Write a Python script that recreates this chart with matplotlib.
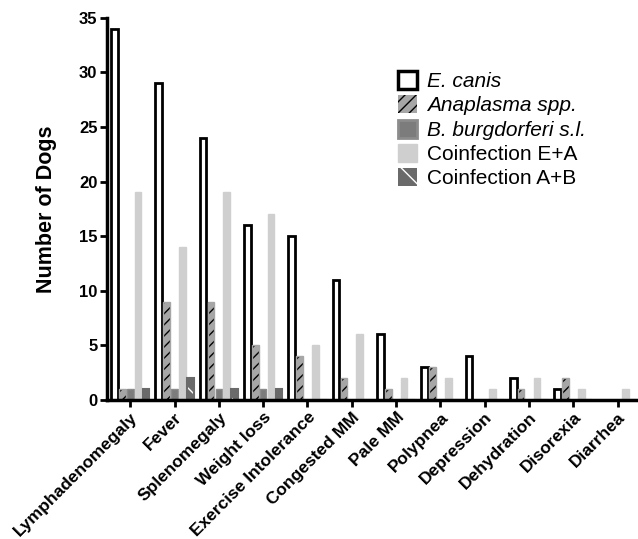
import matplotlib.pyplot as plt
import numpy as np
from matplotlib.patches import Patch

plt.rcParams['font.family'] = ['Liberation Sans', 'DejaVu Sans']

symptoms = ['Lymphadenomegaly', 'Fever', 'Splenomegaly', 'Weight loss',
            'Exercise Intolerance', 'Congested MM', 'Pale MM', 'Polypnea',
            'Depression', 'Dehydration', 'Disorexia', 'Diarrhea']
e_canis = [34, 29, 24, 16, 15, 11, 6, 3, 4, 2, 1, 0]
anaplasma = [1, 9, 9, 5, 4, 2, 1, 3, 0, 1, 2, 0]
borrelia = [1, 1, 1, 1, 0, 0, 0, 0, 0, 0, 0, 0]
coinf_ea = [19, 14, 19, 17, 5, 6, 2, 2, 1, 2, 1, 1]
coinf_ab = [1, 2, 1, 1, 0, 0, 0, 0, 0, 0, 0, 0]

fig = plt.figure(figsize=(6.38, 5.39), dpi=100)
ax = fig.add_axes([0.168, 0.258, 0.83, 0.709])

x = np.arange(len(symptoms))
w = 0.15
step = 0.178

# E. canis: open bars, thick black edge
ax.bar(x - 2 * step, e_canis, w, facecolor='white', edgecolor='black', linewidth=2)
# Anaplasma: gray with black hatch
ax.bar(x - step, anaplasma, w, facecolor='#a6a6a6', edgecolor='black', hatch='///', linewidth=0)
ax.bar(x - step, anaplasma, w, facecolor='none', edgecolor='#a6a6a6', linewidth=1)
# B. burgdorferi
ax.bar(x, borrelia, w, facecolor='#7c7c7c', edgecolor='#8c8c8c', linewidth=1)
# Coinfection E+A
ax.bar(x + step, coinf_ea, w, facecolor='#cfcfcf', edgecolor='#cfcfcf', linewidth=1)
# Coinfection A+B: dark gray with white diagonal
ax.bar(x + 2 * step, coinf_ab, w, facecolor='#6a6a6a', edgecolor='white', hatch='\\', linewidth=0)
ax.bar(x + 2 * step, coinf_ab, w, facecolor='none', edgecolor='#6a6a6a', linewidth=1.5)

ax.set_xlim(-0.52, 11.43)
ax.set_ylim(0, 35)
ax.set_yticks(range(0, 36, 5))
ax.set_xticks(x)
ax.set_xticklabels(symptoms, rotation=45, ha='right', rotation_mode='anchor',
                   fontsize=12.5, fontweight='bold')
for lab in ax.get_yticklabels():
    lab.set_fontweight('bold')
    lab.set_fontsize(12)
ax.tick_params(axis='both', direction='out', length=5, width=2, pad=2)
ax.spines['top'].set_visible(False)
ax.spines['right'].set_visible(False)
ax.spines['left'].set_linewidth(2.5)
ax.spines['bottom'].set_linewidth(2.5)
ax.set_ylabel('Number of Dogs', fontsize=15.5, fontweight='bold', labelpad=16)

handles = [
    Patch(facecolor='white', edgecolor='black', linewidth=2.5),
    Patch(facecolor='#a6a6a6', edgecolor='black', hatch='///', linewidth=0),
    Patch(facecolor='#7c7c7c', edgecolor='#8c8c8c', linewidth=2),
    Patch(facecolor='#cfcfcf', edgecolor='#cfcfcf', linewidth=1),
    Patch(facecolor='#6a6a6a', edgecolor='white', hatch='\\', linewidth=0),
]
labels = ['E. canis', 'Anaplasma spp.', 'B. burgdorferi s.l.', 'Coinfection E+A', 'Coinfection A+B']
leg = ax.legend(handles, labels, loc='upper left', bbox_to_anchor=(0.513, 0.91),
                frameon=False, fontsize=15, handlelength=0.95, handleheight=0.95,
                labelspacing=0.2, handletextpad=0.45)
for i, t in enumerate(leg.get_texts()):
    if i < 3:
        t.set_fontstyle('italic')

fig.savefig('out.png', dpi=100)
